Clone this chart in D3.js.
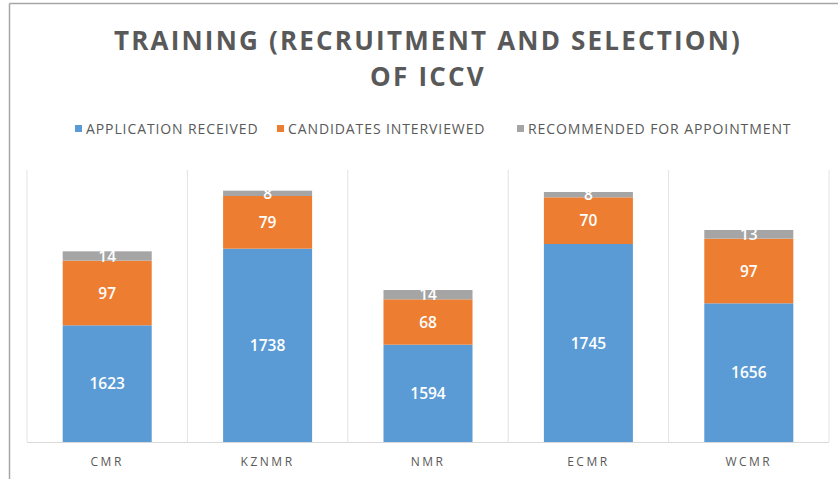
<!DOCTYPE html>
<html><head><meta charset="utf-8">
<script src="https://cdn.jsdelivr.net/npm/d3@7"></script>
<style>body{margin:0;background:#fff}svg{display:block}</style>
</head><body>
<svg id="c" width="838" height="479"></svg>
<script>
const categories = ["CMR","KZNMR","NMR","ECMR","WCMR"];
const seriesNames = ["APPLICATION RECEIVED","CANDIDATES INTERVIEWED","RECOMMENDED FOR APPOINTMENT"];
const applicationReceived = [1623,1738,1594,1745,1656];
const candidatesInterviewed = [97,79,68,70,97];
const recommended = [14,8,14,8,13];
const colors = ["#5B9BD5","#ED7D31","#A5A5A5"];
const yDomain = [1448, 1856];

const svg = d3.select("#c");
// frame
svg.append("line").attr("x1",9.5).attr("x2",838).attr("y1",3.5).attr("y2",3.5).attr("stroke","#a6a6a6").attr("stroke-width",1.5);
svg.append("line").attr("x1",9.5).attr("x2",9.5).attr("y1",3.5).attr("y2",479).attr("stroke","#a6a6a6").attr("stroke-width",1.5);

// title
const title = svg.append("text").attr("text-anchor","middle")
  .attr("font-family","Open Sans").attr("font-weight","bold").attr("font-size",26)
  .attr("fill","#595959").attr("letter-spacing","2.2");
title.append("tspan").attr("x",428).attr("y",50).text("TRAINING (RECRUITMENT AND SELECTION)");
title.append("tspan").attr("x",428).attr("y",86).text("OF ICCV");

// legend
const legendX = [75, 277, 517];
const lg = svg.append("g");
seriesNames.forEach((n,i)=>{
  lg.append("rect").attr("x",legendX[i]).attr("y",125).attr("width",7).attr("height",7).attr("fill",colors[i]);
  lg.append("text").attr("x",legendX[i]+11).attr("y",134).attr("font-family","Open Sans")
    .attr("font-size",14).attr("fill","#595959").attr("letter-spacing","0.9").text(n);
});

const x = d3.scaleBand().domain(categories).range([27,829]).paddingInner(0.445).paddingOuter(0.2225);
const y = d3.scaleLinear().domain(yDomain).range([442,170]);

// vertical category gridlines
const step = x.step();
const edges = d3.range(categories.length+1).map(i=>27 + i*step);
svg.append("g").selectAll("line").data(edges).join("line")
  .attr("x1",d=>d).attr("x2",d=>d).attr("y1",170).attr("y2",442)
  .attr("stroke","#e3e3e3").attr("stroke-width",1);
svg.append("line").attr("x1",27).attr("x2",829).attr("y1",442.5).attr("y2",442.5).attr("stroke","#d9d9d9");

const rows = categories.map((c,i)=>({cat:c, a:applicationReceived[i], b:candidatesInterviewed[i], c2:recommended[i]}));
const stack = d3.stack().keys(["a","b","c2"]).value((d,k)=>d[k]);
const stacked = stack(rows);
const g = svg.append("g");
stacked.forEach((layer,li)=>{
  g.append("g").selectAll("rect").data(layer).join("rect")
    .attr("x",d=>x(d.data.cat)).attr("width",x.bandwidth())
    .attr("y",d=>y(d[1])).attr("height",d=>y(Math.max(d[0],yDomain[0]))-y(d[1]))
    .attr("fill",colors[li]);
});
stacked.forEach((layer,li)=>{
  g.append("g").selectAll("text").data(layer).join("text")
    .attr("x",d=>x(d.data.cat)+x.bandwidth()/2)
    .attr("y",d=>(y(d[1])+y(Math.max(d[0],yDomain[0])))/2+5.5)
    .attr("text-anchor","middle").attr("font-family","Open Sans").attr("font-size",15.5)
    .attr("font-weight",600).attr("fill","#fff").text(d=>d[1]-d[0]);
});

// x axis labels
svg.append("g").selectAll("text").data(categories).join("text")
  .attr("x",d=>x(d)+x.bandwidth()/2).attr("y",466).attr("text-anchor","middle")
  .attr("font-family","Open Sans").attr("font-size",12).attr("letter-spacing","2.5")
  .attr("fill","#595959").text(d=>d);
</script>
</body></html>
